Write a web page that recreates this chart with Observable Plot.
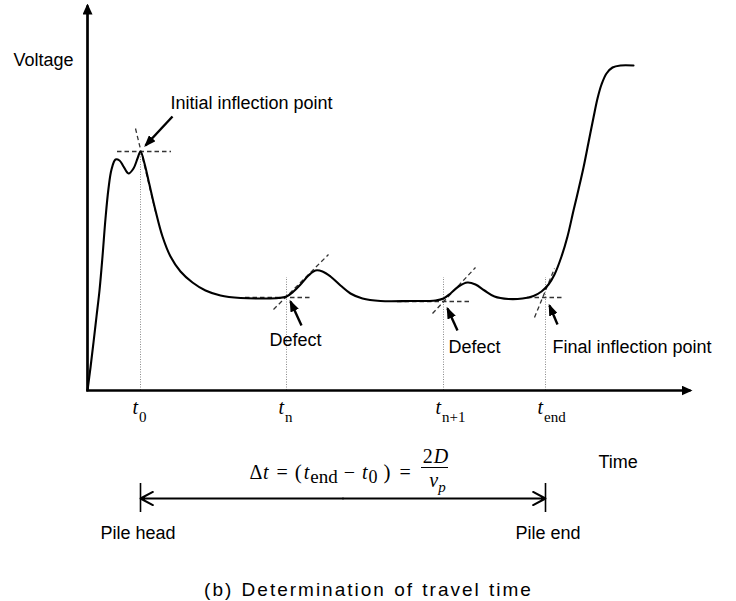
<!DOCTYPE html>
<html>
<head>
<meta charset="utf-8">
<script src="https://cdn.jsdelivr.net/npm/d3@7"></script>
<script src="https://cdn.jsdelivr.net/npm/@observablehq/plot@0.6"></script>
<style>body{margin:0;background:#fff}</style>
</head>
<body>
<div id="chart"></div>
<script>
// ---------- data (time and voltage in arbitrary units) ----------
const time = [0, 0.03, 0.06, 0.09, 0.12, 0.15, 0.18, 0.21, 0.24, 0.28, 0.32, 0.36, 0.41, 0.46, 0.50, 0.53,
  0.57, 0.61, 0.68, 0.75, 0.83, 0.93, 1.05, 1.18, 1.33, 1.53, 1.78, 1.91, 1.99,
  2.06, 2.13, 2.21, 2.28, 2.35, 2.43, 2.53, 2.63, 2.75, 2.93, 3.23, 3.48, 3.56,
  3.63, 3.71, 3.80, 3.88, 3.97, 4.07, 4.21, 4.35, 4.46, 4.54, 4.61, 4.67, 4.74,
  4.80, 4.86, 4.91, 4.96, 5.01, 5.06, 5.10, 5.14, 5.19, 5.25, 5.33, 5.46];
const voltage = [0, 0.23, 0.48, 0.74, 1.00, 1.34, 1.72, 2.02, 2.21, 2.31, 2.30, 2.24, 2.17, 2.22, 2.32, 2.39,
  2.27, 2.10, 1.80, 1.54, 1.34, 1.19, 1.08, 1.00, 0.95, 0.925, 0.92, 0.925, 0.94,
  0.99, 1.06, 1.15, 1.20, 1.19, 1.14, 1.05, 0.97, 0.92, 0.895, 0.895, 0.90, 0.92,
  0.97, 1.04, 1.08, 1.06, 1.00, 0.94, 0.915, 0.92, 0.945, 0.99, 1.06, 1.16, 1.34,
  1.54, 1.80, 2.01, 2.23, 2.48, 2.73, 2.92, 3.06, 3.17, 3.23, 3.25, 3.25];

// characteristic times (tick marks) and their labels
const tickNames = ["0", "n", "n+1", "end"];
const tickTimes = [0.53, 1.99, 3.56, 4.58];
const tickVoltages = [2.39, 0.93, 0.89, 0.93];
const guideTops = [2.39, 1.13, 1.13, 1.13];

const curve = time.map((t, i) => ({t, v: voltage[i]}));

// ---------- annotation layout (data units) ----------
const guides = tickTimes.map((t, i) => ({t, top: guideTops[i]}));
const hDash = [
  {v: tickVoltages[0], x1: 0.30, x2: 0.84},
  {v: tickVoltages[1], x1: 1.58, x2: 2.25},
  {v: tickVoltages[2], x1: 3.10, x2: 3.82},
  {v: tickVoltages[3], x1: 4.40, x2: 4.75}
];
const tangents = [
  {x1: 0.48, y1: 2.62, x2: 0.68, y2: 1.79},
  {x1: 1.86, y1: 0.81, x2: 2.41, y2: 1.36},
  {x1: 3.45, y1: 0.77, x2: 3.88, y2: 1.23},
  {x1: 4.47, y1: 0.73, x2: 4.67, y2: 1.22}
];
const axes = [
  {x1: 0, y1: 0, x2: 0, y2: 3.85},
  {x1: -0.0135, y1: 0, x2: 6.03, y2: 0}
];
const pointers = [
  {x1: 0.85, y1: 2.74, x2: 0.58, y2: 2.45},
  {x1: 2.14, y1: 0.65, x2: 2.03, y2: 0.89},
  {x1: 3.70, y1: 0.60, x2: 3.60, y2: 0.82},
  {x1: 4.70, y1: 0.66, x2: 4.62, y2: 0.85}
];
const t0 = tickTimes[0], tEnd = tickTimes[3];
const spanY = -1.08;
const span = [
  {x1: (t0 + tEnd) / 2, x2: t0},
  {x1: (t0 + tEnd) / 2, x2: tEnd}
];
const labels = [
  {x: -0.74, y: 3.25, text: "Voltage"},
  {x: 0.83, y: 2.82, text: "Initial inflection point"},
  {x: 1.82, y: 0.45, text: "Defect"},
  {x: 3.61, y: 0.38, text: "Defect"},
  {x: 4.65, y: 0.38, text: "Final inflection point"},
  {x: 5.11, y: -0.77, text: "Time"},
  {x: 0.13, y: -1.48, text: "Pile head"},
  {x: 4.28, y: -1.48, text: "Pile end"}
];
const EQ = "Δt = (tend − t0) =";
const caption = "(b) Determination of travel time";

const SANS = "'Liberation Sans', Arial, sans-serif";
const SERIF = "'Liberation Serif', 'Times New Roman', serif";
const dashStyle = {stroke: "#333", strokeWidth: 1.3, strokeDasharray: "4.5,3"};

const chart = Plot.plot({
  width: 736, height: 601,
  marginLeft: 87, marginRight: 46, marginTop: 10, marginBottom: 211,
  x: {domain: [0, 6.03], axis: null},
  y: {domain: [0, 3.8], axis: null},
  style: {background: "#fff", color: "#000"},
  marks: [
    Plot.ruleX(guides, {x: "t", y1: 0, y2: "top", stroke: "#8a8a8a", strokeWidth: 1, strokeDasharray: "1,1.5"}),
    Plot.ruleY(hDash, {y: "v", x1: "x1", x2: "x2", ...dashStyle}),
    Plot.link(tangents, {x1: "x1", y1: "y1", x2: "x2", y2: "y2", ...dashStyle}),
    Plot.line(curve, {x: "t", y: "v", curve: "catmull-rom", stroke: "#000", strokeWidth: 2.1}),
    Plot.link(axes, {x1: "x1", y1: "y1", x2: "x2", y2: "y2", stroke: "#000", strokeWidth: 2.7}),
    Plot.link(pointers, {x1: "x1", y1: "y1", x2: "x2", y2: "y2", stroke: "#000", strokeWidth: 2.4}),
    Plot.arrow(span, {x1: "x1", x2: "x2", y1: spanY, y2: spanY, stroke: "#000", strokeWidth: 2, headLength: 10.5, headAngle: 56}),
    Plot.ruleX([t0, tEnd], {y1: -0.93, y2: -1.22, stroke: "#000", strokeWidth: 1.6}),
    Plot.ruleY([-0.77], {x1: 3.34, x2: 3.61, stroke: "#000", strokeWidth: 1}),
    Plot.text(labels, {x: "x", y: "y", text: "text", textAnchor: "start", lineAnchor: "bottom", fontFamily: SANS, fontSize: 18, fill: "#000"}),
    Plot.text(tickTimes, {x: d => d, y: -0.23, text: (d, i) => "t" + tickNames[i], dx: -8, textAnchor: "start", lineAnchor: "bottom", fontFamily: SERIF, fontSize: 20, fill: "#000"}),
    Plot.text([EQ], {x: 1.62, y: -0.88, text: d => d, textAnchor: "start", lineAnchor: "bottom", fontFamily: SERIF, fontSize: 20, fill: "#000"}),
    Plot.text(["2D"], {x: 3.48, y: -0.72, text: d => d, textAnchor: "middle", lineAnchor: "bottom", fontFamily: SERIF, fontSize: 20, fill: "#000"}),
    Plot.text(["vp"], {x: 3.50, y: -0.96, text: d => d, textAnchor: "middle", lineAnchor: "bottom", fontFamily: SERIF, fontSize: 20, fill: "#000"}),
    Plot.text([caption], {x: 2.81, y: -2.05, text: d => d, textAnchor: "middle", lineAnchor: "bottom", fontFamily: SANS, fontSize: 19, fill: "#000"})
  ]
});

// ---------- post-processing: arrowheads and rich text ----------
const svg = d3.select(chart);
const defs = svg.insert("defs", ":first-child");
function marker(id, len, w) {
  defs.append("marker").attr("id", id)
    .attr("viewBox", `0 ${-w / 2} ${len} ${w}`)
    .attr("refX", len - 2).attr("refY", 0)
    .attr("markerWidth", len).attr("markerHeight", w)
    .attr("markerUnits", "userSpaceOnUse").attr("orient", "auto")
    .append("path").attr("d", `M0,${-w / 2}L${len},0L0,${w / 2}Z`).attr("fill", "#000");
}
marker("axHead", 11, 10);
marker("ptHead", 12, 9);
const links = svg.selectAll('g[aria-label="link"]').nodes();
if (links[1]) d3.select(links[1]).selectAll("path").attr("marker-end", "url(#axHead)");
if (links[2]) d3.select(links[2]).selectAll("path").attr("marker-end", "url(#ptHead)");

const rich = {};
tickNames.forEach(n => {
  rich["t" + n] = {base: 20, parts: [{t: "t", it: 1}, {t: n, size: 15, sub: 8, dx: 1}]};
});
rich[EQ] = {base: 20, parts: [
  {t: "Δ"}, {t: "t", it: 1, dx: 0.5}, {t: "=", dx: 8}, {t: "(", dx: 7, size: 21},
  {t: "t", it: 1, dx: 2}, {t: "end", size: 19, sub: 4, dx: 1}, {t: "−", dx: 6},
  {t: "t", it: 1, dx: 7}, {t: "0", size: 18, sub: 4, dx: 1}, {t: ")", dx: 6, size: 21}, {t: "=", dx: 9}
]};
rich["2D"] = {base: 20, parts: [{t: "2"}, {t: "D", it: 1, dx: 1}]};
rich["vp"] = {base: 20, parts: [{t: "v", it: 1}, {t: "p", it: 1, size: 15, sub: 5}]};

svg.selectAll("text").each(function () {
  const s = this.textContent;
  if (s === caption) {
    d3.select(this).attr("letter-spacing", 2).style("word-spacing", "1px");
    return;
  }
  const spec = rich[s];
  if (!spec) return;
  const sel = d3.select(this);
  sel.text(null);
  let shift = 0;
  for (const p of spec.parts) {
    const ts = sel.append("tspan").text(p.t);
    const sub = p.sub || 0;
    const dy = sub - shift; shift = sub;
    if (dy) ts.attr("dy", dy);
    if (p.dx) ts.attr("dx", p.dx);
    ts.attr("font-size", p.size || spec.base).attr("font-style", p.it ? "italic" : "normal");
  }
});

document.getElementById("chart").appendChild(chart);
</script>
</body>
</html>
